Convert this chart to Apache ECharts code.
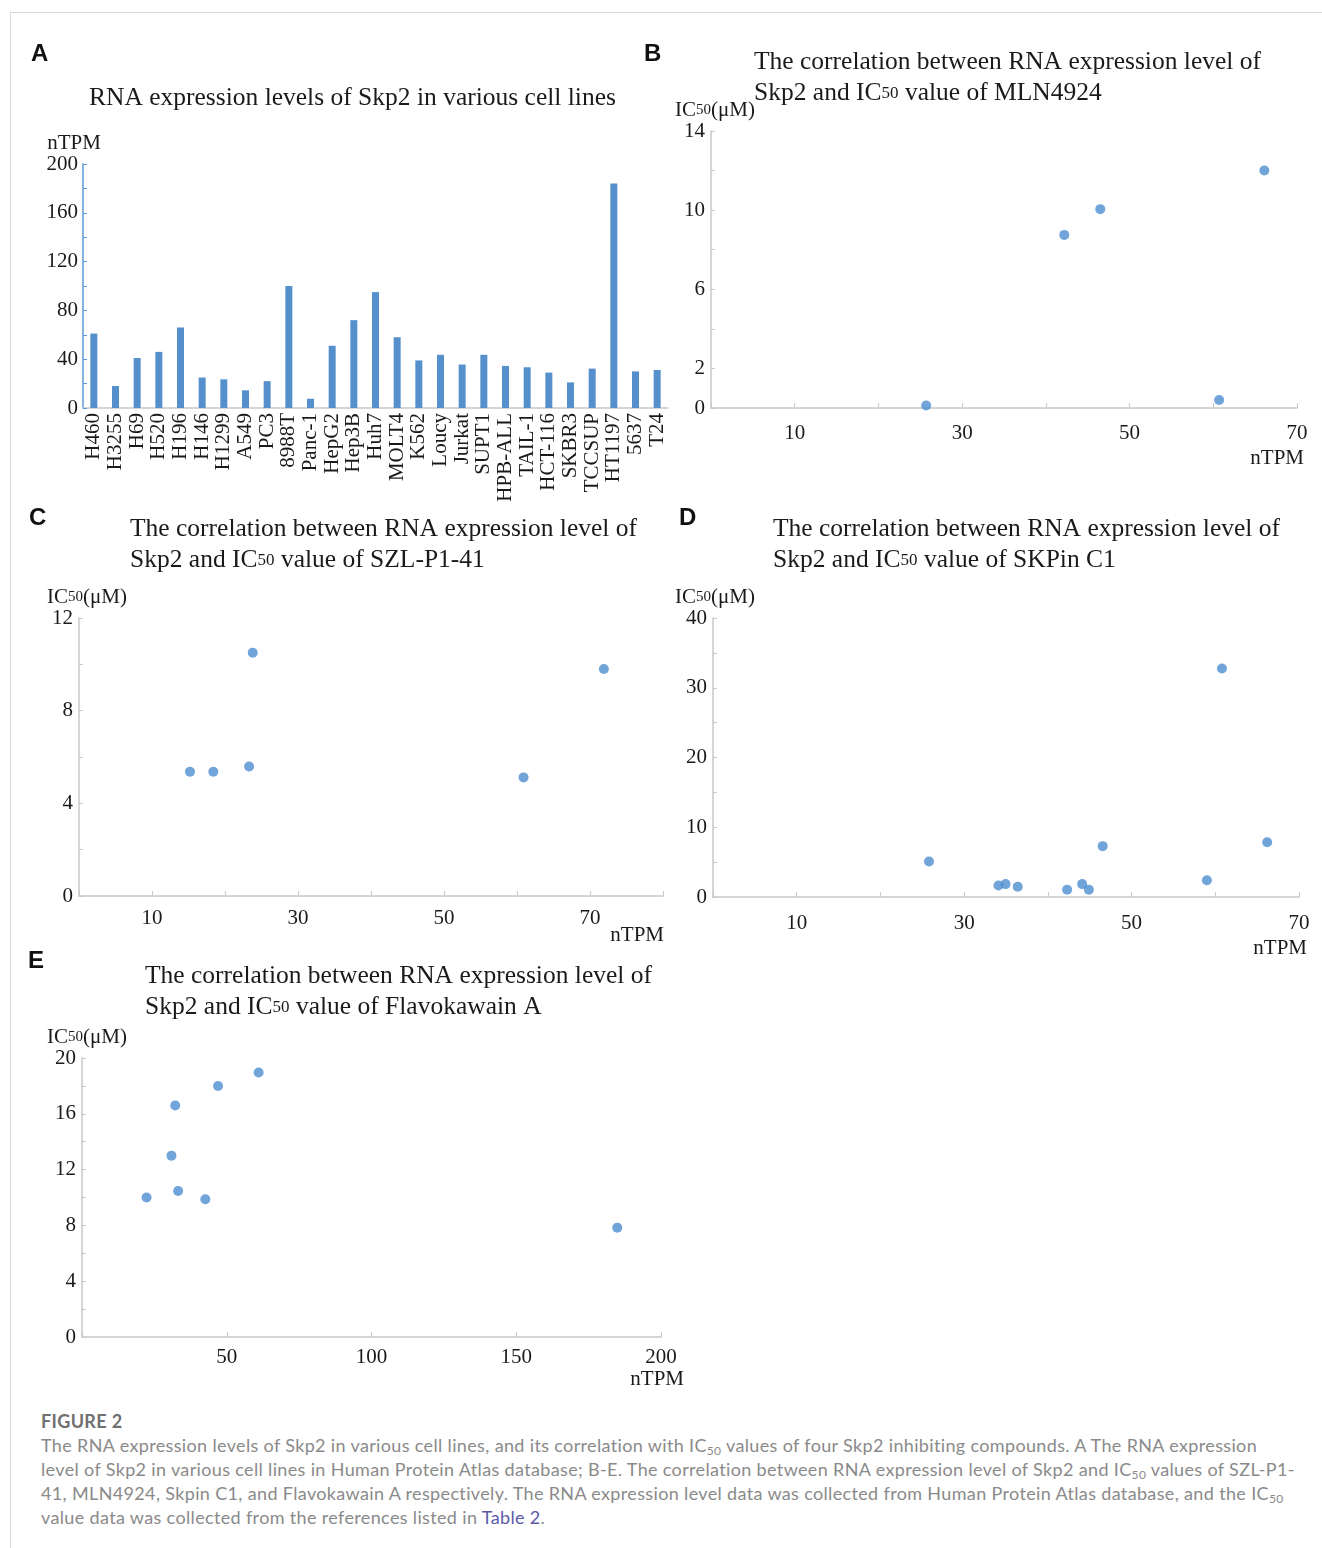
<!DOCTYPE html>
<html>
<head>
<meta charset="utf-8">
<script src="https://cdn.jsdelivr.net/npm/echarts@6/dist/echarts.min.js"></script>
<style>
  html, body { margin: 0; padding: 0; background: #fff; }
  #wrap { position: relative; width: 1322px; height: 1548px; overflow: hidden; }
  #frame { position: absolute; left: 10px; top: 12px; width: 1340px; height: 1600px; border-left: 1px solid #d9d9d9; border-top: 1px solid #d9d9d9; }
  #chart { position: absolute; left: 0; top: 0; width: 1322px; height: 1400px; }
  #caption { position: absolute; left: 41px; top: 1409px; font-family: Lato, "Noto Sans", sans-serif; font-size: 18px; letter-spacing: 0.35px; line-height: 24px; color: #8a8a8a; white-space: nowrap; }
  #caption .fig { font-weight: bold; color: #707070; }
  #caption sub { font-size: 12px; line-height: 0; vertical-align: -3px; }
  #caption .link { color: #5b5ba8; }
</style>
</head>
<body>
<div id="wrap">
  <div id="frame"></div>
  <div id="chart"></div>
  <div id="caption">
    <div class="fig">FIGURE 2</div>
    <div>The RNA expression levels of Skp2 in various cell lines, and its correlation with IC<sub>50</sub> values of four Skp2 inhibiting compounds. A The RNA expression</div>
    <div>level of Skp2 in various cell lines in Human Protein Atlas database; B-E. The correlation between RNA expression level of Skp2 and IC<sub>50</sub> values of SZL-P1-</div>
    <div>41, MLN4924, Skpin C1, and Flavokawain A respectively. The RNA expression level data was collected from Human Protein Atlas database, and the IC<sub>50</sub></div>
    <div>value data was collected from the references listed in <span class="link">Table 2</span>.</div>
  </div>
</div>
<script>
// ---- Data ----
const cellLines = ['H460','H3255','H69','H520','H196','H146','H1299','A549','PC3','8988T','Panc-1','HepG2','Hep3B','Huh7','MOLT4','K562','Loucy','Jurkat','SUPT1','HPB-ALL','TAIL-1','HCT-116','SKBR3','TCCSUP','HT1197','5637','T24'];
const skp2nTPM = [61, 18, 41, 46, 66, 25, 23.5, 14.5, 22, 100, 7.6, 51, 72, 95, 58, 39, 43.6, 35.6, 43.6, 34.5, 33.4, 29, 21, 32.3, 184, 30, 31.2];

const mlnX = [25.7, 42.2, 46.5, 60.7, 66.1];
const mlnY = [0.13, 8.75, 10.05, 0.4, 12.0];

const szlX = [15.2, 18.4, 23.3, 23.8, 60.9, 71.9];
const szlY = [5.36, 5.36, 5.59, 10.5, 5.12, 9.8];

const skpinX = [25.8, 34.1, 34.95, 36.4, 42.3, 44.1, 44.9, 46.55, 59.0, 60.8, 66.2];
const skpinY = [5.1, 1.66, 1.85, 1.47, 1.04, 1.85, 1.04, 7.29, 2.41, 32.76, 7.86];

const flavoX = [22.3, 30.9, 32.2, 33.2, 42.6, 47.0, 61.0, 184.9];
const flavoY = [10.0, 13.0, 16.6, 10.47, 9.88, 17.99, 18.96, 7.84];

const pairs = (xs, ys) => xs.map((x, i) => [x, ys[i]]);

// ---- Styles ----
const SERIF = '"Liberation Serif", "DejaVu Serif", serif';
const TXT = '#1a1a1a';
const AXIS = '#c8c8c8';
const BAR = '#5590cc';
const DOT = '#4d8dcf';
const LBL = 21;

const sub = { s: { fontFamily: SERIF, fontSize: 15, color: TXT } };

function panelTitle(text, left, top) {
  return { text, left, top, padding: 0,
    textStyle: { fontFamily: SERIF, fontSize: 25.5, fontWeight: 'normal', color: TXT, lineHeight: 31,
      rich: { s: { fontFamily: SERIF, fontSize: 17, color: TXT, lineHeight: 31 } } } };
}
function letter(t, left, top) {
  return { text: t, left, top, padding: 0,
    textStyle: { fontFamily: '"Liberation Sans", Arial, sans-serif', fontSize: 24, fontWeight: 'bold', color: '#111' } };
}

function valueX(idx, min, max, interval, showFn, labelMargin, nameGap, namePadTop) {
  return { type: 'value', gridIndex: idx, min, max, interval,
    name: 'nTPM', nameLocation: 'end', nameGap,
    nameTextStyle: { fontFamily: SERIF, fontSize: LBL, color: TXT, align: 'right', verticalAlign: 'top', padding: [namePadTop, 0, 0, 0] },
    axisLine: { show: true, lineStyle: { color: AXIS, width: 1.5 } },
    axisTick: { show: true, inside: true, length: 5, lineStyle: { color: AXIS } },
    axisLabel: { margin: labelMargin, fontFamily: SERIF, fontSize: LBL, color: TXT, formatter: v => showFn(v) ? String(v) : '' , showMinLabel: true, showMaxLabel: true},
    splitLine: { show: false } };
}
function valueY(idx, min, max, interval, showFn, nameGap, shiftPad) {
  return { type: 'value', gridIndex: idx, min, max, interval,
    name: 'IC{s|50}(μM)', nameLocation: 'end', nameGap,
    nameTextStyle: { fontFamily: SERIF, fontSize: LBL, color: TXT, align: 'center', rich: sub, padding: [0, 0, 0, shiftPad] },
    axisLine: { show: true, lineStyle: { color: AXIS, width: 1.5 } },
    axisTick: { show: true, inside: true, length: 4, lineStyle: { color: AXIS } },
    axisLabel: { margin: 6, fontFamily: SERIF, fontSize: LBL, color: TXT, formatter: v => showFn(v) ? String(v) : '' },
    splitLine: { show: false } };
}

const option = {
  animation: false,
  backgroundColor: 'transparent',
  title: [
    letter('A', 31, 42), letter('B', 644, 42), letter('C', 29, 506), letter('D', 679, 506), letter('E', 28, 949),
    panelTitle('RNA expression levels of Skp2 in various cell lines', 89, 83),
    panelTitle('The correlation between RNA expression level of\nSkp2 and IC{s|50} value of MLN4924', 754, 47),
    panelTitle('The correlation between RNA expression level of\nSkp2 and IC{s|50} value of SZL-P1-41', 130, 514),
    panelTitle('The correlation between RNA expression level of\nSkp2 and IC{s|50} value of SKPin C1', 773, 514),
    panelTitle('The correlation between RNA expression level of\nSkp2 and IC{s|50} value of Flavokawain A', 145, 961)
  ],
  grid: [
    { left: 83, top: 164, width: 585, height: 244 },
    { left: 711, top: 131, width: 586, height: 277 },
    { left: 79, top: 618, width: 584, height: 278 },
    { left: 713, top: 618, width: 586, height: 279 },
    { left: 82, top: 1058, width: 579, height: 279 }
  ],
  xAxis: [
    { type: 'category', gridIndex: 0, data: cellLines,
      axisLine: { show: true, lineStyle: { color: AXIS, width: 1.5 } },
      axisTick: { show: false },
      axisLabel: { interval: 0, rotate: 90, margin: 5, fontFamily: SERIF, fontSize: LBL, color: TXT } },
    valueX(1, 0, 70, 10, v => v % 20 === 10, 15, 7, 40),
    valueX(2, 0, 80, 10, v => v % 20 === 10 && v <= 70, 12, 1, 29),
    valueX(3, 0, 70, 10, v => v % 20 === 10, 16, 8, 41),
    valueX(4, 0, 200, 50, v => v > 0, 10, 23, 32)
  ],
  yAxis: [
    { type: 'value', gridIndex: 0, min: 0, max: 200, interval: 20,
      name: 'nTPM', nameLocation: 'end', nameGap: 8,
      nameTextStyle: { fontFamily: SERIF, fontSize: LBL, color: TXT, align: 'center', padding: [0, 18, 0, 0] },
      axisLine: { show: true, lineStyle: { color: '#5b9bd5', width: 1.5 } },
      axisTick: { show: true, inside: true, length: 4, lineStyle: { color: '#5b9bd5' } },
      axisLabel: { margin: 5, fontFamily: SERIF, fontSize: LBL, color: TXT, formatter: v => v % 40 === 0 ? String(v) : '' },
      splitLine: { show: false } },
    valueY(1, 0, 14, 2, v => v === 0 || (v - 2) % 4 === 0, 8, 8),
    valueY(2, 0, 12, 2, v => v % 4 === 0, 8, 16),
    valueY(3, 0, 40, 5, v => v % 10 === 0, 8, 4),
    valueY(4, 0, 20, 2, v => v % 4 === 0, 10, 10)
  ],
  series: [
    { type: 'bar', xAxisIndex: 0, yAxisIndex: 0, data: skp2nTPM, barWidth: 7, itemStyle: { color: BAR } },
    { type: 'scatter', xAxisIndex: 1, yAxisIndex: 1, data: pairs(mlnX, mlnY), symbolSize: 10, itemStyle: { color: DOT } },
    { type: 'scatter', xAxisIndex: 2, yAxisIndex: 2, data: pairs(szlX, szlY), symbolSize: 10, itemStyle: { color: DOT } },
    { type: 'scatter', xAxisIndex: 3, yAxisIndex: 3, data: pairs(skpinX, skpinY), symbolSize: 10, itemStyle: { color: DOT } },
    { type: 'scatter', xAxisIndex: 4, yAxisIndex: 4, data: pairs(flavoX, flavoY), symbolSize: 10, itemStyle: { color: DOT } }
  ]
};

const chart = echarts.init(document.getElementById('chart'), null, { renderer: 'canvas' });
chart.setOption(option);
</script>
</body>
</html>
